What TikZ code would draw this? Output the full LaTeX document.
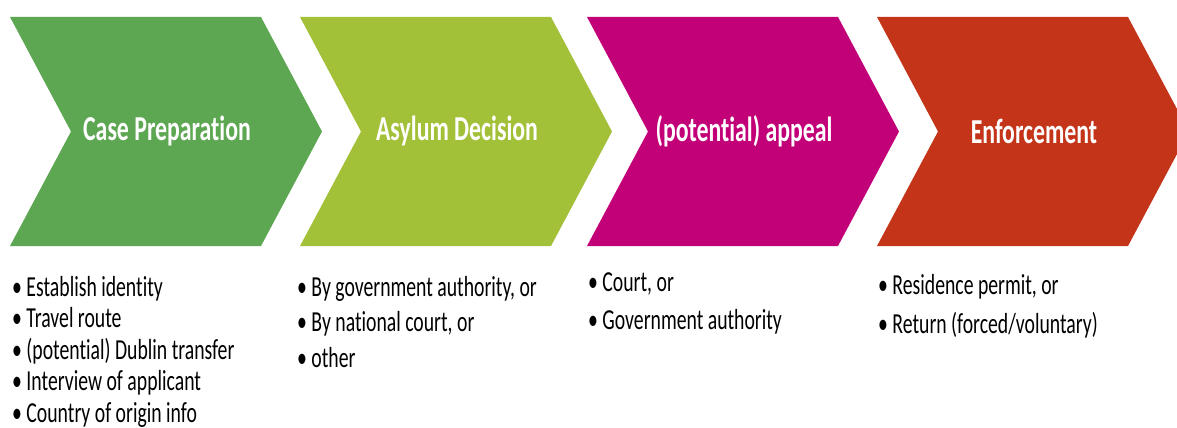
\documentclass[tikz,border=0pt]{standalone}
\usepackage{fontspec}
\setmainfont{Carlito}[FakeStretch=0.68,Ligatures=NoCommon]
\definecolor{prepgreen}{RGB}{93,167,82}
\definecolor{declime}{RGB}{162,193,56}
\definecolor{appmagenta}{RGB}{194,0,120}
\definecolor{enfred}{RGB}{196,52,24}
\tikzset{
	steptitle/.style={text=white,font=\fontsize{35}{38}\selectfont\bfseries},
	steplist/.style={anchor=north west,inner sep=0pt,align=left,text=black}
}
\begin{document}
\begin{tikzpicture}[x=1pt,y=-1pt]
		\clip (0,0) rectangle (1177,428);
		\fill[white] (0,0) rectangle (1177,428);
		\foreach \x/\col/\nm/\ttl in {10/prepgreen/prep/{Case Preparation},
			300/declime/dec/{Asylum Decision},
			587/appmagenta/app/{(potential) appeal},
			877/enfred/enf/{Enforcement}}{
			\fill[\col] (\x,17) -- ++(251,0) -- ++(61,114.5) -- ++(-61,114.5)
				-- ++(-251,0) -- ++(61,-114.5) -- cycle;
			\node[steptitle] (\nm) at (\x+157,131) {\ttl};
		}
		\node[steplist,font=\fontsize{29}{31.5}\selectfont] (preplist) at (12,276)
			{\textbullet\ Establish identity\\ \textbullet\ Travel route\\
			 \textbullet\ (potential) Dublin transfer\\ \textbullet\ Interview of applicant\\
			 \textbullet\ Country of origin info};
		\node[steplist,font=\fontsize{29}{35.5}\selectfont] (declist) at (297,276)
			{\textbullet\ By government authority, or\\ \textbullet\ By national court, or\\
			 \textbullet\ other};
		\node[steplist,font=\fontsize{29}{38}\selectfont] (applist) at (588,272)
			{\textbullet\ Court, or\\ \textbullet\ Government authority};
		\node[steplist,font=\fontsize{29}{39}\selectfont] (enflist) at (878,274)
			{\textbullet\ Residence permit, or\\ \textbullet\ Return (forced/voluntary)};
	\end{tikzpicture}
\end{document}
